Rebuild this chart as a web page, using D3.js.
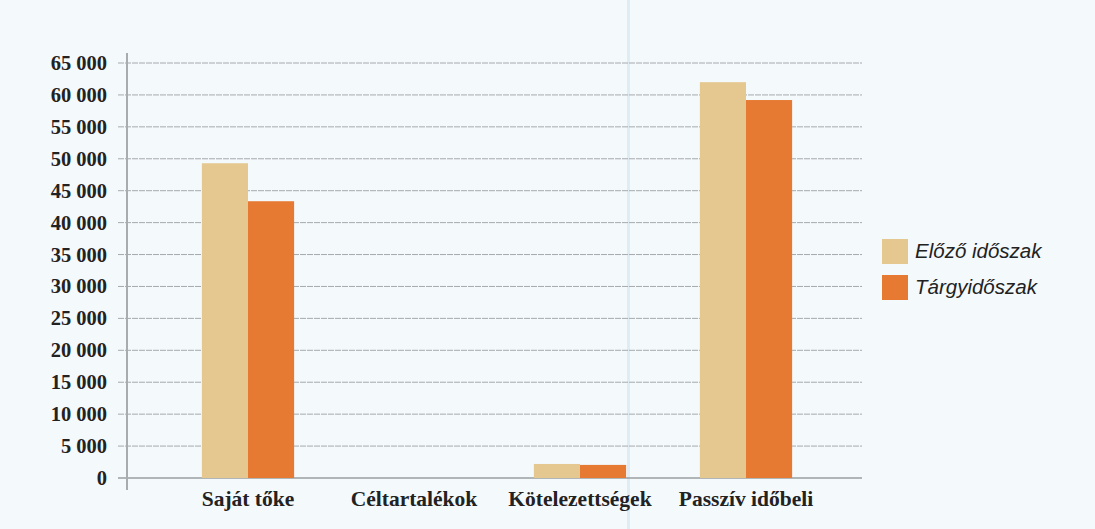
<!DOCTYPE html>
<html><head><meta charset="utf-8">
<script src="https://cdn.jsdelivr.net/npm/d3@7/dist/d3.min.js"></script>
<style>
html,body{margin:0;padding:0;background:#f4f9fc;}
svg{display:block;}
</style></head><body>
<svg id="chart" width="1095" height="529"></svg>
<script>
const categories = ["Saját tőke", "Céltartalékok", "Kötelezettségek", "Passzív időbeli"];
const seriesNames = ["Előző időszak", "Tárgyidőszak"];
const previousValues = [49300, 0, 2200, 62000];
const currentValues = [43350, 0, 2050, 59200];
const yTicks = [0,5000,10000,15000,20000,25000,30000,35000,40000,45000,50000,55000,60000,65000];
const colors = ["#e4c88f", "#e67a33"];

const svg = d3.select("#chart");
svg.append("rect").attr("width",1095).attr("height",529).attr("fill","#f4f9fc");
// paper fold artifact
svg.append("rect").attr("x",627).attr("y",0).attr("width",3).attr("height",529).attr("fill","#e0ecf4");

const y = d3.scaleLinear().domain([0,65000]).range([478,63]);
const x = d3.scaleBand().domain(categories).range([165,829]).paddingInner(0).paddingOuter(0);
const xs = d3.scaleBand().domain(seriesNames).range([0,x.bandwidth()]).paddingInner(0).paddingOuter(0.8);

const fmt = v => d3.format(",")(v).replace(/,/g, " ");

// gridlines
svg.append("g").selectAll("line").data(yTicks).join("line")
  .attr("x1",118).attr("x2",862)
  .attr("y1",d=>y(d)).attr("y2",d=>y(d))
  .attr("stroke",d=>d===0?"#9a9ea2":"#a6aaad").attr("stroke-width",d=>d===0?1.6:1)
  .attr("stroke-dasharray",d=>d===0?null:"6,1");

// y axis line
svg.append("line").attr("x1",127).attr("x2",127).attr("y1",53).attr("y2",490)
  .attr("stroke","#a9acae").attr("stroke-width",2);

// y tick labels
svg.append("g").selectAll("text").data(yTicks).join("text")
  .attr("x",107).attr("y",d=>y(d)+7).attr("text-anchor","end")
  .attr("font-family","Liberation Serif, Times New Roman, serif").attr("font-weight","bold")
  .attr("font-size",20.5).attr("fill","#222").text(d=>d===0?"0":fmt(d));

// bars
const data = categories.map((c,i)=>({cat:c, vals:[previousValues[i], currentValues[i]]}));
const g = svg.append("g").selectAll("g").data(data).join("g")
  .attr("transform",d=>`translate(${x(d.cat)},0)`);
g.selectAll("rect").data(d=>d.vals.map((v,j)=>({v, s:seriesNames[j], j})))
  .join("rect")
  .attr("x",d=>xs(d.s)).attr("width",xs.bandwidth())
  .attr("y",d=>y(d.v)).attr("height",d=>y(0)-y(d.v))
  .attr("fill",d=>colors[d.j]);

// x labels
svg.append("g").selectAll("text").data(categories).join("text")
  .attr("x",d=>x(d)+x.bandwidth()/2).attr("y",506).attr("text-anchor","middle")
  .attr("font-family","Liberation Serif, Times New Roman, serif").attr("font-weight","bold")
  .attr("font-size",21.5).attr("fill","#222").text(d=>d);

// legend
const lg = svg.append("g").attr("transform","translate(882,239)");
seriesNames.forEach((s,i)=>{
  lg.append("rect").attr("x",0).attr("y",i*36).attr("width",26).attr("height",25).attr("fill",colors[i]);
  lg.append("text").attr("x",33).attr("y",i*36+19).attr("font-family","Liberation Sans, Arial, sans-serif")
    .attr("font-style","italic").attr("font-size",20.5).attr("fill","#222").text(s);
});
</script>
</body></html>
